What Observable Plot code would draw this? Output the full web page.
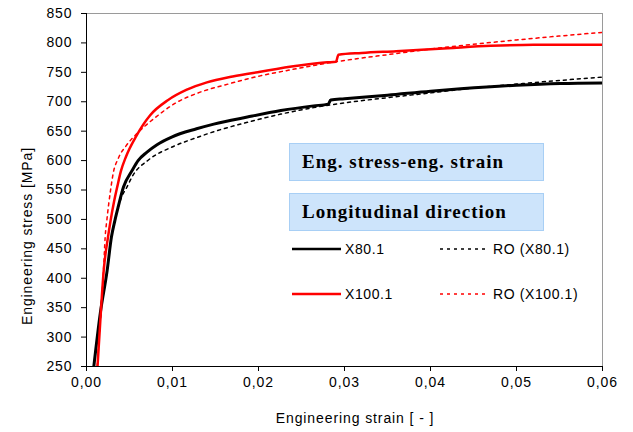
<!DOCTYPE html>
<html>
<head>
<meta charset="utf-8">
<script src="https://cdn.jsdelivr.net/npm/d3@7"></script>
<script src="https://cdn.jsdelivr.net/npm/@observablehq/plot@0.6"></script>
<style>
  html, body { margin: 0; padding: 0; background: white; }
  #wrap { position: relative; width: 633px; height: 432px; font-family: "Liberation Sans", Arial, sans-serif; }
  .box { position: absolute; left: 289px; width: 241px; height: 36px; background: #cde4fb; border: 1.5px solid #a8cff5;
         font-family: "Liberation Serif", "Times New Roman", serif; font-weight: bold; font-size: 19px; letter-spacing: 1px;
         line-height: 36px; padding-left: 12px; box-sizing: content-box; color: #000; }
  .lg { position: absolute; font-size: 14px; letter-spacing: 0.6px; line-height: 16px; color: #000; }
  .sw { position: absolute; overflow: visible; }
  .axlabel { position: absolute; font-size: 14px; letter-spacing: 0.9px; line-height: 16px; white-space: nowrap; color: #000; }
</style>
</head>
<body>
<div id="wrap"></div>
<script>
// ---- data ----
const xTicks = [0, 0.01, 0.02, 0.03, 0.04, 0.05, 0.06];
const yTicks = [250, 300, 350, 400, 450, 500, 550, 600, 650, 700, 750, 800, 850];
const xLabel = "Engineering strain [ - ]";
const yLabel = "Engineering stress [MPa]";

// X80.1 experimental
const x80Strain = [0.00085, 0.0016, 0.0024, 0.0029, 0.0033, 0.0037, 0.0043, 0.0053, 0.0060, 0.0070, 0.0082, 0.0099, 0.0128, 0.0148, 0.0187, 0.0226, 0.0264, 0.0281, 0.0284, 0.030, 0.035, 0.040, 0.0435, 0.050, 0.0551, 0.060];
const x80Stress = [250, 340, 413, 470, 498, 522, 555, 583, 600, 614, 627, 640, 654, 662, 674, 685, 693, 696, 703, 705, 711, 718, 722, 728, 731, 732];

// RO (X80.1)
const ro80Strain = [0.00085, 0.0016, 0.0024, 0.0029, 0.0034, 0.0040, 0.0047, 0.0054, 0.0072, 0.0101, 0.0128, 0.0150, 0.0187, 0.0226, 0.0264, 0.030, 0.035, 0.040, 0.0435, 0.050, 0.060];
const ro80Stress = [250, 340, 413, 470, 505, 535, 555, 575, 601, 624, 639, 650, 665, 679, 690, 698, 707, 715, 721, 730, 742];

// X100.1 experimental
const x100Strain = [0.00128, 0.0017, 0.0020, 0.0025, 0.0028, 0.0032, 0.0036, 0.0040, 0.0046, 0.0058, 0.0074, 0.0095, 0.0116, 0.0140, 0.0170, 0.0202, 0.0245, 0.0280, 0.0290, 0.0293, 0.032, 0.036, 0.042, 0.047, 0.052, 0.060];
const x100Stress = [250, 350, 413, 470, 498, 530, 557, 582, 607, 642, 677, 703, 720, 733, 743, 751, 761, 767, 768, 780, 783, 786, 791, 795, 797, 797];

// RO (X100.1)
const ro100Strain = [0.00125, 0.0017, 0.0020, 0.00217, 0.00236, 0.0028, 0.0031, 0.0037, 0.0046, 0.0058, 0.0079, 0.0105, 0.0128, 0.0167, 0.0202, 0.0240, 0.0290, 0.035, 0.042, 0.050, 0.060];
const ro100Stress = [250, 350, 420, 470, 498, 550, 578, 604, 625, 645, 672, 699, 714, 731, 744, 755, 768, 780, 793, 805, 818];

const zip = (xs, ys) => xs.map((x, i) => ({strain: x, stress: ys[i]}));
const x80 = zip(x80Strain, x80Stress);
const ro80 = zip(ro80Strain, ro80Stress);
const x100 = zip(x100Strain, x100Stress);
const ro100 = zip(ro100Strain, ro100Stress);

const fmtX = d => d.toFixed(2).replace(".", ",");

const chart = Plot.plot({
  width: 633, height: 432,
  marginLeft: 86, marginRight: 31, marginTop: 13, marginBottom: 66,
  style: {fontFamily: "'Liberation Sans', Arial, sans-serif", fontSize: "14px", letterSpacing: "0.9px",
          color: "#000", background: "white", overflow: "visible"},
  x: {domain: [0, 0.06]},
  y: {domain: [250, 850]},
  marks: [
    Plot.frame({stroke: "#9a9a9a", strokeWidth: 1}),
    Plot.line(ro80, {x: "strain", y: "stress", stroke: "#000", strokeWidth: 1.5, strokeDasharray: "3,4", curve: "monotone-x", clip: true}),
    Plot.line(ro100, {x: "strain", y: "stress", stroke: "#ff0000", strokeWidth: 1.5, strokeDasharray: "3,4", curve: "monotone-x", clip: true}),
    Plot.line(x80, {x: "strain", y: "stress", stroke: "#000", strokeWidth: 3, curve: "monotone-x", clip: true}),
    Plot.line(x100, {x: "strain", y: "stress", stroke: "#ff0000", strokeWidth: 2.5, curve: "monotone-x", clip: true}),
    Plot.ruleX([0], {stroke: "#000"}),
    Plot.ruleY([250], {stroke: "#000"}),
    Plot.axisX({ticks: xTicks, tickFormat: fmtX, tickSize: 5, tickPadding: 6, label: null}),
    Plot.axisY({ticks: yTicks, tickSize: 5, tickPadding: 9, label: null})
  ]
});

const wrap = document.getElementById("wrap");
wrap.appendChild(chart);

const add = (html) => { wrap.insertAdjacentHTML("beforeend", html); };

// ---- axis titles ----
add(`<div class="axlabel" style="left:355px;top:410px;transform:translateX(-50%)">${xLabel}</div>`);
add(`<div class="axlabel" style="left:27px;top:236px;transform:translate(-50%,-50%) rotate(-90deg)">${yLabel}</div>`);

// ---- in-plot annotation boxes and legend ----
add('<div class="box" style="top:143px">Eng. stress-eng. strain</div>');
add('<div class="box" style="top:193px">Longitudinal direction</div>');

const legend = [
  {name: "X80.1", color: "#000", dash: false, left: 292, top: 249, w: 2.5},
  {name: "RO (X80.1)", color: "#000", dash: true, left: 440, top: 249, w: 1.5},
  {name: "X100.1", color: "#ff0000", dash: false, left: 292, top: 294, w: 2.5},
  {name: "RO (X100.1)", color: "#ff0000", dash: true, left: 440, top: 294, w: 1.5}
];
for (const l of legend) {
  const dash = l.dash ? 'stroke-dasharray="3,4"' : '';
  add(`<svg class="sw" width="49" height="6" style="left:${l.left}px;top:${l.top - 3}px"><line x1="0" x2="49" y1="3" y2="3" stroke="${l.color}" stroke-width="${l.w}" ${dash}/></svg>`);
  add(`<div class="lg" style="left:${l.left + 53}px;top:${l.top - 8}px">${l.name}</div>`);
}
</script>
</body>
</html>
